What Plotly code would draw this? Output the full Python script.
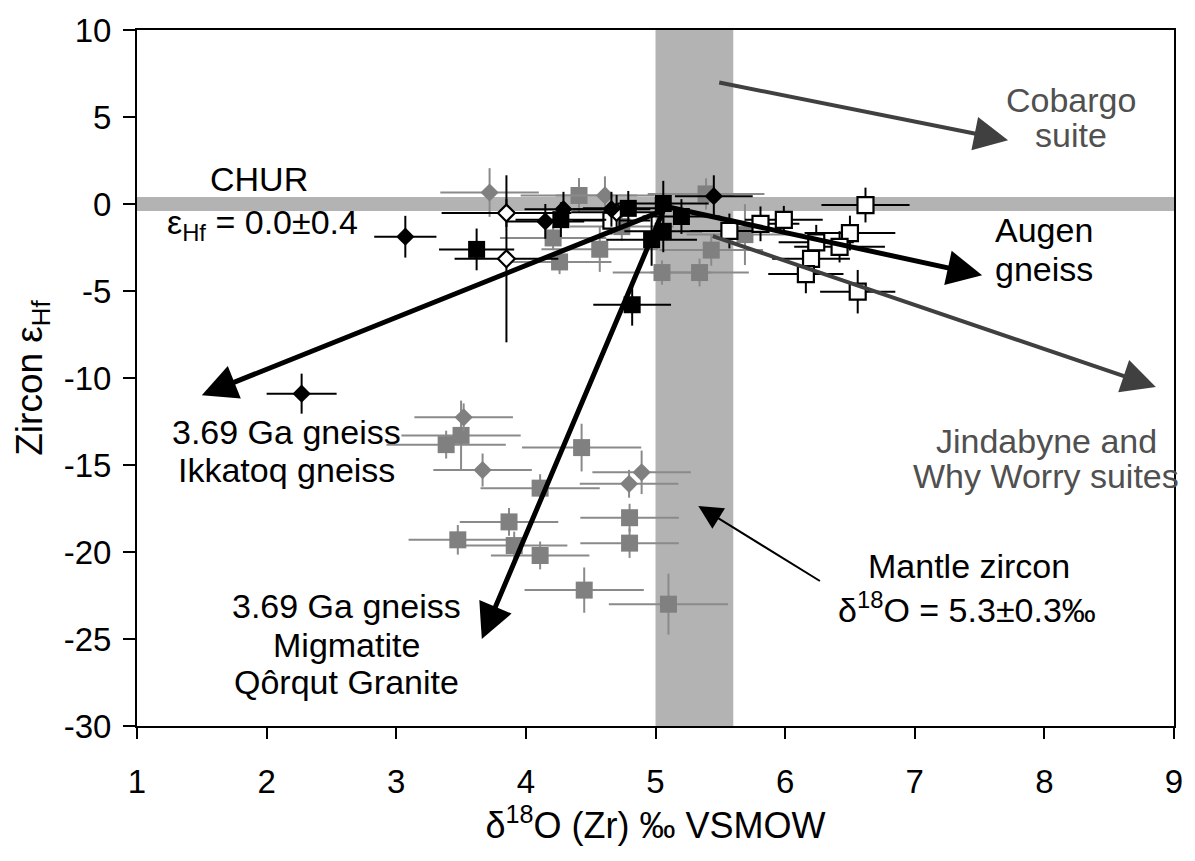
import plotly.graph_objects as go

# ---------------- data ----------------
# gray squares
gsq_x = [4.41, 4.21, 4.26, 4.57, 4.74, 5.05, 5.34, 5.43, 5.39, 5.69,
         3.50, 3.385, 4.43, 4.11, 3.87, 4.80, 3.475, 3.91, 4.80, 4.11, 4.45, 5.10]
gsq_y = [0.49, -1.95, -3.33, -2.60, -1.30, -3.94, -3.94, -2.65, 0.58, -1.76,
         -13.30, -13.83, -14.0, -16.33, -18.27, -18.03, -19.30, -19.63, -19.49, -20.2, -22.19, -23.0]
gsq_ex = [0.45, 0.41, 0.40, 0.45, 0.40, 0.38, 0.38, 0.40, 0.45, 0.45,
          0.46, 0.46, 0.46, 0.46, 0.38, 0.38, 0.38, 0.41, 0.38, 0.38, 0.46, 0.46]
gsq_ey = [1.0, 0.7, 0.7, 1.3, 0.8, 0.7, 0.8, 0.9, 0.9, 1.75,
          2.0, 0.8, 1.37, 0.8, 0.8, 0.8, 0.85, 0.8, 0.85, 0.8, 1.3, 1.75]

# gray diamonds
gdi_x = [3.72, 4.61, 3.52, 3.666, 4.893, 4.796]
gdi_y = [0.66, 0.49, -12.26, -15.29, -15.42, -16.08]
gdi_ex = [0.38, 0.38, 0.38, 0.38, 0.38, 0.38]
gdi_ey = [1.4, 1.1, 0.8, 0.95, 1.25, 0.8]

# open squares
osq_x = [6.62, 5.81, 5.99, 6.24, 6.50, 6.42, 6.20, 6.16, 6.56, 5.57, 4.66]
osq_y = [-0.06, -1.14, -0.91, -2.2, -1.67, -2.46, -3.15, -4.03, -5.04, -1.55, -0.95]
osq_ex = [0.34, 0.30, 0.30, 0.29, 0.35, 0.35, 0.30, 0.29, 0.29, 0.30, 0.30]
osq_ey = [1.0, 1.0, 0.8, 1.0, 1.0, 0.9, 0.8, 1.1, 1.25, 1.0, 0.8]

# open diamonds
odi_x = [3.85, 3.85, 4.70]
odi_y = [-0.52, -3.15, -0.48]
odi_ex = [0.50, 0.40, 0.35]
odi_ey = [0.8, 4.8, 1.0]

# black squares
bsq_x = [3.62, 4.82, 4.27, 4.79, 5.06, 5.20, 4.97, 5.06]
bsq_y = [-2.61, -5.79, -0.9, -0.25, 0.03, -0.72, -2.05, -1.57]
bsq_ex = [0.29, 0.30, 0.35, 0.35, 0.35, 0.30, 0.35, 0.30]
bsq_ey = [1.2, 1.2, 1.0, 1.0, 1.3, 1.0, 1.5, 1.2]

# black diamonds
bdi_x = [3.07, 2.27, 4.15, 4.29, 5.45, 4.66]
bdi_y = [-1.88, -10.9, -1.0, -0.3, 0.45, -0.3]
bdi_ex = [0.24, 0.27, 0.30, 0.30, 0.30, 0.30]
bdi_ey = [1.2, 1.15, 1.0, 1.0, 1.2, 1.0]

# reference bands
mantle_d18o, mantle_err = 5.3, 0.3
chur_ehf, chur_err = 0.0, 0.4

# axis ticks
x_ticks = [1, 2, 3, 4, 5, 6, 7, 8, 9]
x_ticklabels = ["1", "2", "3", "4", "5", "6", "7", "8", "9"]
y_ticks = [10, 5, 0, -5, -10, -15, -20, -25, -30]
y_ticklabels = ["10", "5", "0", "-5", "-10", "-15", "-20", "-25", "-30"]

# arrows: (tail_x, tail_y, head_x, head_y, colour, width, headsize)
arrows = [
    (5.48, 7.0, 7.72, 3.66, "#404040", 4, 1.7),
    (5.05, -0.1, 7.52, -4.1, "#000000", 5, 1.4),
    (5.43, -1.82, 8.86, -10.52, "#404040", 4, 1.7),
    (5.05, -0.4, 1.50, -10.99, "#000000", 5, 1.4),
    (5.07, -0.2, 3.66, -25.0, "#000000", 5, 1.4),
    (6.28, -21.72, 5.33, -17.35, "#000000", 2, 2.4),
]

# labels: (text, x, y, colour)
labels = [
    ("CHUR", 1.94, 1.43, "#000000"),
    ("ε<sub>Hf</sub> = 0.0±0.4", 1.97, -1.17, "#000000"),
    ("3.69 Ga gneiss", 2.156, -13.10, "#000000"),
    ("Ikkatoq gneiss", 2.156, -15.31, "#000000"),
    ("3.69 Ga gneiss", 2.616, -23.08, "#000000"),
    ("Migmatite", 2.616, -25.34, "#000000"),
    ("Qôrqut Granite", 2.616, -27.45, "#000000"),
    ("Mantle zircon", 7.42, -20.80, "#000000"),
    ("δ<sup>18</sup>O = 5.3±0.3‰", 7.40, -23.20, "#000000"),
    ("Cobargo", 8.206, 5.97, "#505050"),
    ("suite", 8.206, 3.98, "#505050"),
    ("Augen", 8.0, -1.52, "#000000"),
    ("gneiss", 8.0, -3.73, "#000000"),
    ("Jindabyne and", 8.016, -13.61, "#505050"),
    ("Why Worry suites", 8.016, -15.65, "#505050"),
]

FONT = "Liberation Sans, Arial, sans-serif"
GRAY_M = "#808080"
GRAY_E = "#8a8a8a"
BAND = "#b3b3b3"

fig = go.Figure()


def add(xs, ys, exs, eys, symbol, fill, line_col, err_col, size, lw):
    fig.add_trace(go.Scatter(
        x=xs, y=ys, mode="markers",
        marker=dict(symbol=symbol, size=size, color=fill,
                    line=dict(color=line_col, width=lw)),
        error_x=dict(type="data", array=exs, color=err_col, thickness=2, width=0),
        error_y=dict(type="data", array=eys, color=err_col, thickness=2, width=0),
        showlegend=False, cliponaxis=False,
    ))


add(gsq_x, gsq_y, gsq_ex, gsq_ey, "square", GRAY_M, GRAY_M, GRAY_E, 17, 0)
add(gdi_x, gdi_y, gdi_ex, gdi_ey, "diamond", GRAY_M, GRAY_M, GRAY_E, 14, 0)
add(osq_x, osq_y, osq_ex, osq_ey, "square", "white", "black", "black", 16, 2.2)
add(odi_x, odi_y, odi_ex, odi_ey, "diamond", "white", "black", "black", 13, 2.2)
add(bsq_x, bsq_y, bsq_ex, bsq_ey, "square", "black", "black", "black", 17, 0)
add(bdi_x, bdi_y, bdi_ex, bdi_ey, "diamond", "black", "black", "black", 14, 0)

# bands
fig.add_shape(type="rect", xref="x", yref="paper",
              x0=mantle_d18o - mantle_err, x1=mantle_d18o + mantle_err, y0=0, y1=1,
              fillcolor=BAND, line_width=0, layer="below")
fig.add_shape(type="rect", xref="paper", yref="y",
              x0=0, x1=1, y0=chur_ehf - chur_err, y1=chur_ehf + chur_err,
              fillcolor=BAND, line_width=0, layer="below")

for tx, ty, hx, hy, col, w, hs in arrows:
    fig.add_annotation(x=hx, y=hy, ax=tx, ay=ty, xref="x", yref="y",
                       axref="x", ayref="y", text="", showarrow=True,
                       arrowhead=2, arrowsize=hs, arrowwidth=w, arrowcolor=col,
                       standoff=0, startstandoff=0)

for txt, x, y, col in labels:
    fig.add_annotation(x=x, y=y, xref="x", yref="y", text=txt, showarrow=False,
                       font=dict(family=FONT, size=34, color=col),
                       xanchor="center", yanchor="middle")

fig.update_layout(
    width=1195, height=861,
    margin=dict(l=137, r=15, t=21, b=135),
    paper_bgcolor="white", plot_bgcolor="white",
    font=dict(family=FONT, size=33, color="black"),
    xaxis=dict(range=[1, 9], tickvals=x_ticks, ticktext=x_ticklabels,
               ticks="outside", ticklen=11, ticklabelstandoff=14,
               tickwidth=2, tickcolor="black", showline=True, linewidth=2,
               linecolor="black", mirror=True, showgrid=False, zeroline=False,
               tickfont=dict(size=33),
               title=dict(text="δ<sup>18</sup>O (Zr) ‰ VSMOW", font=dict(size=36),
                          standoff=14)),
    yaxis=dict(range=[-30, 10], tickvals=y_ticks, ticktext=y_ticklabels,
               ticks="outside", ticklen=12, ticklabelstandoff=5,
               tickwidth=2, tickcolor="black", showline=True, linewidth=2,
               linecolor="black", mirror=True, showgrid=False, zeroline=False,
               tickfont=dict(size=33),
               title=dict(text="Zircon ε<sub>Hf</sub>", font=dict(size=37),
                          standoff=10)),
)

fig.write_html("out.html")
